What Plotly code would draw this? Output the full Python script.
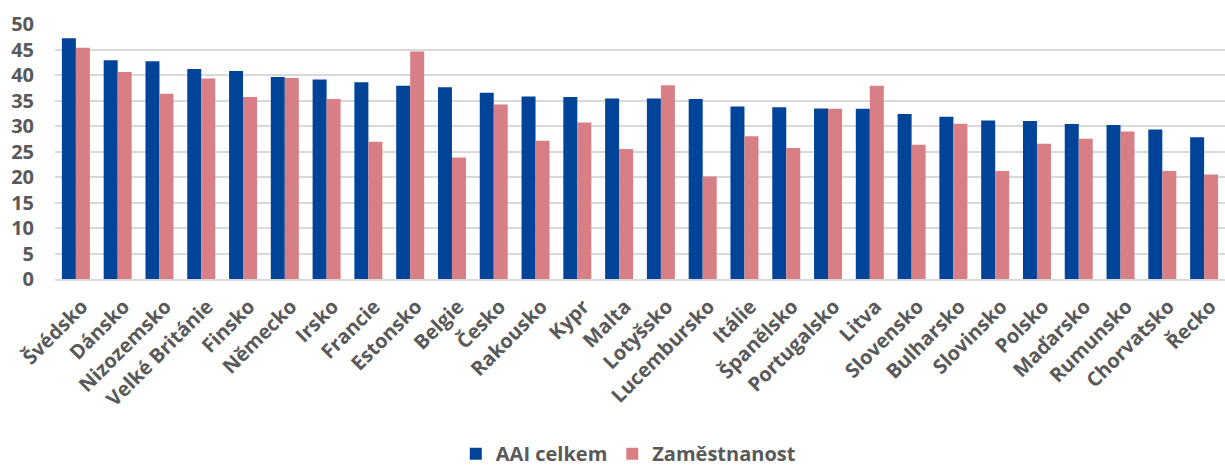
import plotly.graph_objects as go

countries = ["Švédsko", "Dánsko", "Nizozemsko", "Velké Británie", "Finsko", "Německo", "Irsko",
             "Francie", "Estonsko", "Belgie", "Česko", "Rakousko", "Kypr", "Malta", "Lotyšsko",
             "Lucembursko", "Itálie", "Španělsko", "Portugalsko", "Litva", "Slovensko", "Bulharsko",
             "Slovinsko", "Polsko", "Maďarsko", "Rumunsko", "Chorvatsko", "Řecko"]
aai_celkem = [47.2, 42.9, 42.7, 41.2, 40.8, 39.6, 39.1, 38.6, 37.9, 37.6, 36.5, 35.8, 35.7, 35.4,
              35.4, 35.3, 33.8, 33.7, 33.45, 33.4, 32.35, 31.8, 31.1, 31.0, 30.4, 30.2, 29.3, 27.8]
zamestnanost = [45.35, 40.6, 36.3, 39.3, 35.7, 39.4, 35.3, 26.9, 44.6, 23.8, 34.2, 27.1, 30.7, 25.5,
                38.0, 20.1, 28.0, 25.7, 33.4, 37.9, 26.3, 30.45, 21.2, 26.5, 27.5, 28.9, 21.2, 20.5]
y_ticks = [0, 5, 10, 15, 20, 25, 30, 35, 40, 45, 50]

FONT = "Open Sans"
GREY = "#595959"

fig = go.Figure()
fig.add_trace(go.Bar(x=countries, y=aai_celkem, name="AAI celkem",
                     marker=dict(color="#00449A", line=dict(width=0))))
fig.add_trace(go.Bar(x=countries, y=zamestnanost, name="Zaměstnanost",
                     marker=dict(color="#D87F86", line=dict(width=0))))

fig.update_layout(
    width=1225, height=480,
    margin=dict(l=55, r=0, t=24, b=201),
    plot_bgcolor="white", paper_bgcolor="white",
    barmode="group", bargap=0.33, bargroupgap=0,
    font=dict(family=FONT, color=GREY),
    showlegend=True,
    legend=dict(orientation="h", x=0.49, xanchor="center", y=-0.685, yanchor="middle",
                font=dict(family=FONT, size=20, color=GREY, weight="bold"),
                traceorder="normal"),
    xaxis=dict(tickangle=-45, tickfont=dict(family=FONT, size=20, color=GREY, weight="bold"),
               showline=True, linecolor="#d9d9d9", linewidth=2, ticks="", showgrid=False,
               automargin=False, ticklabelstandoff=6, ticklabelshift=6),
    yaxis=dict(range=[0, 50], tickvals=y_ticks, ticktext=[str(v) for v in y_ticks],
               tickfont=dict(family=FONT, size=20, color=GREY, weight="bold"),
               showgrid=True, gridcolor="#d9d9d9", gridwidth=2, zeroline=False,
               showline=False, ticks="", ticklabelstandoff=20, automargin=False),
)

fig.write_html("out.html", config={"displayModeBar": False},
               post_script="document.body.style.margin='0px';document.body.style.overflow='hidden';")
